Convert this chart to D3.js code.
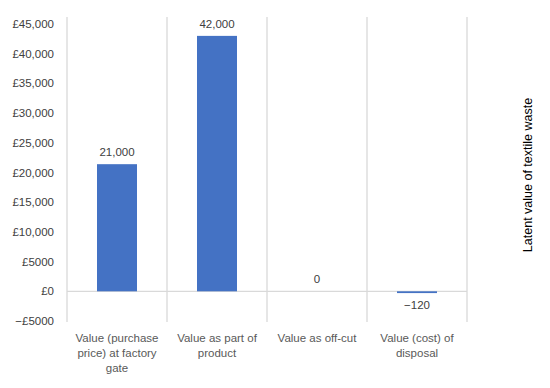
<!DOCTYPE html>
<html><head><meta charset="utf-8">
<script src="https://cdn.jsdelivr.net/npm/d3@7"></script>
<style>body{margin:0;background:#fff}</style>
</head><body>
<svg id="c" width="550" height="388"></svg>
<script>
const categories = [["Value (purchase","price) at factory","gate"],["Value as part of","product"],["Value as off-cut"],["Value (cost) of","disposal"]];
const values = [21400, 43000, 0, -300];
const valueLabels = ["21,000", "42,000", "0", "\u2212120"];
const yTicks = [-5000, 0, 5000, 10000, 15000, 20000, 25000, 30000, 35000, 40000, 45000];
const tickLabels = ["\u2212\u00a35000","\u00a30","\u00a35000","\u00a310,000","\u00a315,000","\u00a320,000","\u00a325,000","\u00a330,000","\u00a335,000","\u00a340,000","\u00a345,000"];
const axisTitle = "Latent value of textile waste";

const svg = d3.select("#c");
const x = d3.scaleBand().domain(d3.range(categories.length)).range([67, 467]).paddingInner(0).paddingOuter(0);
const y = d3.scaleLinear().domain([-5000, 45000]).range([321, 24]);

// vertical gridlines
const bounds = d3.range(categories.length + 1).map(i => 67 + i * x.bandwidth());
svg.selectAll("line.vg").data(bounds).join("line")
  .attr("x1", d => d).attr("x2", d => d).attr("y1", 17).attr("y2", 322)
  .attr("stroke", "#d9d9d9").attr("stroke-width", 1.3);
// zero line
svg.append("line").attr("x1", 67).attr("x2", 467).attr("y1", y(0)).attr("y2", y(0))
  .attr("stroke", "#d9d9d9").attr("stroke-width", 1.3);

// y tick labels
svg.selectAll("text.yt").data(yTicks).join("text")
  .attr("x", 54).attr("y", d => y(d)).attr("dy", "0.35em")
  .attr("text-anchor", "end").attr("font-family", "Liberation Sans, Arial, sans-serif")
  .attr("font-size", 11.5).attr("fill", "#404040")
  .text((d, i) => tickLabels[i]);

// bars
const bw = 40;
svg.selectAll("rect.bar").data(values).join("rect")
  .attr("x", (d, i) => x(i) + x.bandwidth() / 2 - bw / 2)
  .attr("width", bw)
  .attr("y", d => Math.min(y(d), y(0)))
  .attr("height", d => Math.abs(y(d) - y(0)))
  .attr("fill", "#4472C4");

// value labels
svg.selectAll("text.vl").data(values).join("text")
  .attr("x", (d, i) => x(i) + x.bandwidth() / 2)
  .attr("y", d => d >= 0 ? y(d) - 8 : y(d) + 16)
  .attr("text-anchor", "middle").attr("font-family", "Liberation Sans, Arial, sans-serif")
  .attr("font-size", 11.5).attr("fill", "#404040")
  .text((d, i) => valueLabels[i]);

// category labels
const cg = svg.selectAll("g.cat").data(categories).join("g")
  .attr("transform", (d, i) => `translate(${x(i) + x.bandwidth() / 2},0)`);
cg.selectAll("text").data(d => d).join("text")
  .attr("x", 0).attr("y", (d, j) => 342 + j * 15)
  .attr("text-anchor", "middle").attr("font-family", "Liberation Sans, Arial, sans-serif")
  .attr("font-size", 11.5).attr("fill", "#595959")
  .text(d => d);

// right axis title
svg.append("text")
  .attr("transform", "translate(532,175) rotate(-90)")
  .attr("text-anchor", "middle").attr("font-family", "Liberation Sans, Arial, sans-serif")
  .attr("font-size", 12.5).attr("fill", "#000")
  .text(axisTitle);
</script>
</body></html>
